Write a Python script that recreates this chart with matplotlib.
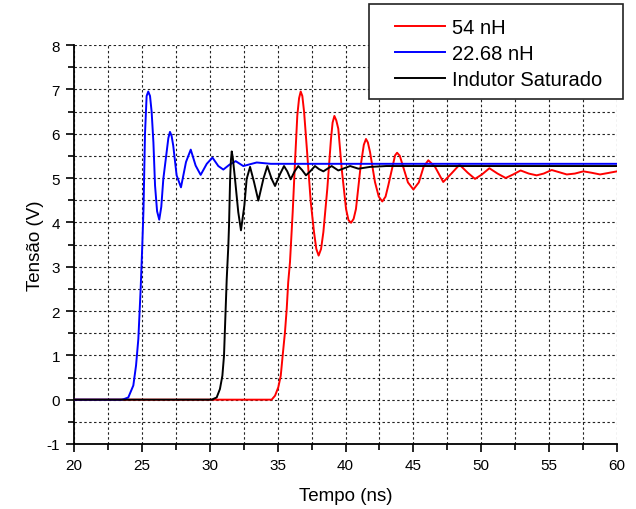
import numpy as np
import matplotlib
matplotlib.use('Agg')
import matplotlib.pyplot as plt
from matplotlib.ticker import MultipleLocator
from matplotlib.patches import Rectangle

plt.rcParams['font.family'] = ['Liberation Sans', 'DejaVu Sans']
plt.rcParams['axes.unicode_minus'] = False

# data: (tempo ns, tensao V)
red_pts = [(20, 0), (34.56, 0), (34.81, 0.09), (35.05, 0.28), (35.23, 0.54), (35.37, 0.99),
           (35.54, 1.52), (35.67, 2.05), (35.78, 2.65), (35.91, 3.1), (36.11, 4.23), (36.28, 5.36),
           (36.45, 6.41), (36.58, 6.8), (36.7, 6.95), (36.82, 6.85), (36.95, 6.49), (37.19, 5.51),
           (37.44, 4.46), (37.68, 3.78), (37.85, 3.4), (38.02, 3.25), (38.2, 3.4), (38.37, 3.78),
           (38.66, 4.76), (38.93, 5.88), (39.05, 6.25), (39.18, 6.4), (39.32, 6.3), (39.47, 6.11),
           (39.72, 5.21), (40.04, 4.3), (40.22, 4.05), (40.41, 3.99), (40.6, 4.08), (40.77, 4.3),
           (41.12, 5.28), (41.35, 5.75), (41.51, 5.88), (41.65, 5.8), (41.81, 5.58), (42.17, 4.91),
           (42.45, 4.58), (42.71, 4.47), (42.95, 4.58), (43.15, 4.83), (43.65, 5.51), (43.8, 5.57),
           (44.0, 5.5), (44.3, 5.2), (44.6, 4.9), (45.0, 4.74), (45.4, 4.9), (45.75, 5.25),
           (46.1, 5.4), (46.6, 5.25), (47.2, 4.91), (47.8, 5.1), (48.4, 5.3), (49.0, 5.12),
           (49.54, 4.98), (50.05, 5.08), (50.6, 5.22), (51.2, 5.1), (51.8, 5.0), (52.35, 5.08),
           (52.9, 5.17), (53.5, 5.1), (54.08, 5.06), (54.6, 5.1), (55.19, 5.18), (55.75, 5.13),
           (56.3, 5.08), (56.9, 5.1), (57.52, 5.15), (58.1, 5.12), (58.75, 5.08), (59.3, 5.11),
           (60, 5.15)]

blue_pts = [(20, 0), (23.5, 0), (23.65, 0.01), (24.0, 0.05), (24.37, 0.32), (24.57, 0.77),
            (24.74, 1.37), (24.91, 2.5), (25.03, 3.48), (25.12, 4.3), (25.23, 6.0), (25.35, 6.85),
            (25.47, 6.95), (25.6, 6.85), (25.72, 6.49), (25.85, 5.8), (25.97, 4.83), (26.12, 4.25),
            (26.28, 4.06), (26.43, 4.35), (26.58, 4.98), (26.83, 5.6), (26.95, 5.9), (27.07, 6.04),
            (27.19, 5.95), (27.31, 5.73), (27.56, 5.06), (27.88, 4.79), (28.25, 5.36), (28.6, 5.64),
            (28.96, 5.28), (29.33, 5.07), (29.78, 5.32), (30.2, 5.46), (30.63, 5.27), (31.0, 5.19),
            (31.45, 5.3), (31.91, 5.38), (32.47, 5.27), (33.46, 5.35), (34.5, 5.32), (60, 5.32)]

black_pts = [(20, 0), (30.14, 0), (30.51, 0.05), (30.75, 0.24), (30.93, 0.54), (31.05, 0.99),
             (31.12, 1.6), (31.25, 2.72), (31.37, 3.48), (31.42, 3.93), (31.5, 4.98), (31.56, 5.4),
             (31.62, 5.6), (31.7, 5.45), (31.86, 4.98), (32.1, 4.23), (32.3, 3.82), (32.55, 4.38),
             (32.72, 4.98), (32.97, 5.25), (33.26, 4.91), (33.58, 4.49), (33.95, 4.98), (34.24, 5.27),
             (34.56, 4.98), (34.81, 4.82), (35.18, 5.09), (35.47, 5.27), (35.71, 5.15), (35.96, 4.97),
             (36.25, 5.15), (36.52, 5.27), (36.8, 5.18), (37.09, 5.06), (37.4, 5.15), (37.75, 5.27),
             (38.05, 5.2), (38.37, 5.15), (38.98, 5.27), (39.47, 5.17), (40.34, 5.27), (40.95, 5.21),
             (41.8, 5.25), (43.0, 5.27), (60, 5.27)]

labels = ['54 nH', '22.68 nH', 'Indutor Saturado']
colors = ['red', 'blue', 'black']

fig = plt.figure(figsize=(6.36, 5.1), dpi=100)
ax = fig.add_axes([74 / 636, 1 - 445 / 510, (617 - 74) / 636, (445 - 46) / 510])

handles = []
for pts, c, lab in zip([red_pts, blue_pts, black_pts], colors, labels):
    arr = np.array(pts)
    h, = ax.plot(arr[:, 0], arr[:, 1], color=c, lw=1.4, label=lab, zorder=3)
    handles.append(h)

ax.set_xlim(20, 60)
ax.set_ylim(-1, 8)
ax.xaxis.set_major_locator(MultipleLocator(5))
ax.xaxis.set_minor_locator(MultipleLocator(2.5))
ax.yaxis.set_major_locator(MultipleLocator(1))
ax.yaxis.set_minor_locator(MultipleLocator(0.5))

ax.grid(True, which='both', color='#222222', linestyle=(0, (2.2, 2.2)), lw=0.8)
ax.set_axisbelow(True)

for s in ['top', 'right']:
    ax.spines[s].set_visible(False)
for s in ['left', 'bottom']:
    ax.spines[s].set_linewidth(1.3)

ax.tick_params(which='major', direction='out', length=6, width=1.2, labelsize=11, pad=4)
ax.tick_params(which='minor', direction='out', length=4, width=1.2)

ax.set_xlabel('Tempo (ns)', fontsize=13.5, labelpad=11)
ax.set_ylabel('Tensão (V)', fontsize=13.5, labelpad=2)

# legend box
fig.patches.append(Rectangle((369 / 636, 1 - 100 / 510), (623 - 369) / 636, 95 / 510,
                             transform=fig.transFigure, facecolor='white', edgecolor='#222222',
                             lw=1.2, zorder=4))
fig.legend(handles=handles, loc='upper left', bbox_to_anchor=(395 / 636, 1 - 19 / 510),
           frameon=False, fontsize=14.5, handlelength=2.5, handletextpad=0.35,
           labelspacing=0.36, borderpad=0, borderaxespad=0)

fig.savefig('out.png', dpi=100)
